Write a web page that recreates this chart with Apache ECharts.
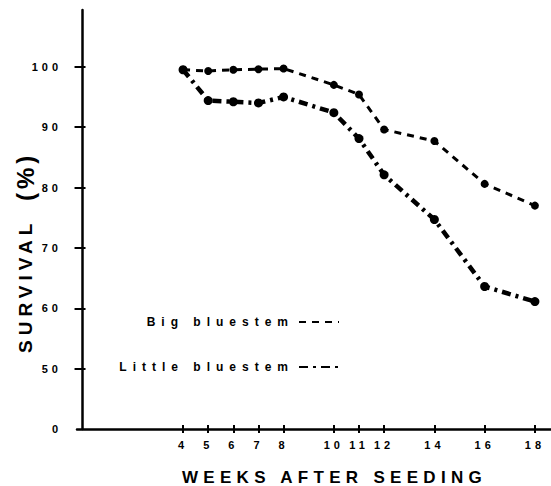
<!DOCTYPE html>
<html><head><meta charset="utf-8">
<script src="https://cdn.jsdelivr.net/npm/echarts@6/dist/echarts.min.js"></script>
<style>
html,body{margin:0;padding:0;background:#fff;}
#chart{width:551px;height:486px;}
#chart text[style*="11px"]{letter-spacing:4px;}
#chart text[style*="12px"]{letter-spacing:6px;}
#chart text[style*="17px"]{letter-spacing:5.3px;}
#chart text[style*="19px"]{letter-spacing:5px;}
#chart text[style*="24px"]{letter-spacing:4px;}
</style>
</head><body>
<div id="chart"></div>
<script>
const weeks = [4, 5, 6, 7, 8, 10, 11, 12, 14, 16, 18];
const bigBluestem = [99.5, 99.3, 99.5, 99.6, 99.7, 97.0, 95.4, 89.6, 87.7, 80.6, 77.0];
const littleBluestem = [99.5, 94.4, 94.2, 94.0, 95.0, 92.4, 88.1, 82.1, 74.7, 63.6, 61.1];
const yTicks = [50, 60, 70, 80, 90, 100];
const yLabels = [40, 50, 60, 70, 80, 90, 100];
const seriesNames = ['Big bluestem', 'Little bluestem'];

const FONT = 'Liberation Sans';
const chart = echarts.init(document.getElementById('chart'), null, {renderer: 'svg'});
const pairs = arr => weeks.map((w, i) => [w, arr[i]]);

const xCommon = {type: 'value', min: -0.22, max: 18.64, splitLine: {show: false}};
const yCommon = {type: 'value', min: 40, max: 109.4, splitLine: {show: false}};
const legendText = {color: '#000', fontFamily: FONT, fontWeight: 'bold', fontSize: 12};

chart.setOption({
  animation: false,
  backgroundColor: '#fff',
  grid: {left: 77, right: 0, top: 10, bottom: 57},
  xAxis: [
    Object.assign({}, xCommon, {
      position: 'bottom',
      axisLine: {show: true, lineStyle: {color: '#000', width: 2.5}},
      axisTick: {show: true, inside: false, length: 4, lineStyle: {color: '#000', width: 2}, customValues: weeks},
      axisLabel: {show: true, customValues: weeks, margin: 10, color: '#000', fontFamily: FONT, fontWeight: 'bold', fontSize: 11}
    }),
    Object.assign({}, xCommon, {
      position: 'bottom',
      axisLine: {show: false},
      axisTick: {show: true, inside: true, length: 4, lineStyle: {color: '#000', width: 2}, customValues: weeks},
      axisLabel: {show: false}
    })
  ],
  yAxis: [
    Object.assign({}, yCommon, {
      position: 'left',
      axisLine: {show: true, lineStyle: {color: '#000', width: 2.5}},
      axisTick: {show: true, inside: false, length: 8, lineStyle: {color: '#000', width: 2}, customValues: yTicks},
      axisLabel: {show: true, customValues: yLabels, margin: 15, color: '#000', fontFamily: FONT, fontWeight: 'bold', fontSize: 11,
        formatter: v => (v === 40 ? '0' : String(v))}
    }),
    Object.assign({}, yCommon, {
      position: 'left',
      axisLine: {show: false},
      axisTick: {show: true, inside: true, length: 3, lineStyle: {color: '#000', width: 2}, customValues: yTicks},
      axisLabel: {show: false}
    })
  ],
  legend: [
    {data: [seriesNames[0]], orient: 'horizontal', align: 'right', right: 211, top: 316, padding: 0,
     itemWidth: 40, itemHeight: 8, itemGap: 0, itemStyle: {opacity: 0}, textStyle: legendText},
    {data: [seriesNames[1]], orient: 'horizontal', align: 'right', right: 211, top: 361, padding: 0,
     itemWidth: 40, itemHeight: 8, itemGap: 0, itemStyle: {opacity: 0}, textStyle: legendText}
  ],
  graphic: [
    {type: 'text', x: 182, y: 477,
      style: {text: 'WEEKS AFTER SEEDING', x: 0, y: 0, align: 'left', verticalAlign: 'middle', fill: '#000', font: 'bold 17px "Liberation Sans"'}},
    {type: 'text', x: 25, y: 353, rotation: Math.PI / 2,
      style: {text: 'SURVIVAL', x: 0, y: 0, align: 'left', verticalAlign: 'middle', fill: '#000', font: 'bold 19px "Liberation Sans"'}},
    {type: 'text', x: 25, y: 201, rotation: Math.PI / 2,
      style: {text: '(%)', x: 0, y: 0, align: 'left', verticalAlign: 'middle', fill: '#000', font: 'bold 24px "Liberation Sans"'}}
  ],
  series: [
    {name: seriesNames[0], type: 'line', data: pairs(bigBluestem), xAxisIndex: 0, yAxisIndex: 0,
     symbol: 'circle', symbolSize: 8, itemStyle: {color: '#000'},
     lineStyle: {color: '#000', width: 3, type: [7, 6]}},
    {name: seriesNames[1], type: 'line', data: pairs(littleBluestem), xAxisIndex: 0, yAxisIndex: 0,
     symbol: 'circle', symbolSize: 9, itemStyle: {color: '#000'},
     lineStyle: {color: '#000', width: 4.5, type: [9, 5, 3, 5], cap: 'butt'}}
  ]
});
</script>
</body></html>
